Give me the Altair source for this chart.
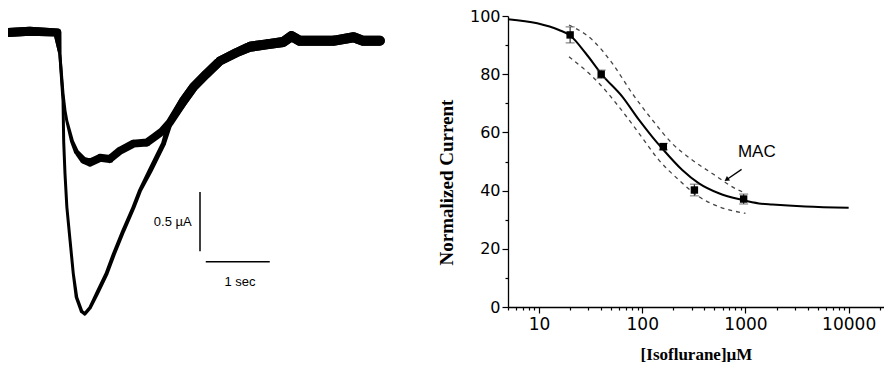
import altair as alt
import pandas as pd

# ---------------- Left panel: two current traces (time in s, current in µA) ----------------
small_t = [0.0, 0.34, 0.77, 0.81, 0.86, 0.89, 0.92, 1.00, 1.07, 1.18, 1.28, 1.44, 1.59, 1.75,
           1.96, 2.17, 2.30, 2.40, 2.53, 2.74, 2.90, 3.10, 3.31, 3.57, 3.78, 4.04, 4.30, 4.43,
           4.56, 5.08, 5.40, 5.55, 5.81]
small_i = [0.0, 0.01, 0.0, -0.18, -0.52, -0.66, -0.75, -0.92, -1.01, -1.08, -1.10, -1.06, -1.07,
           -1.00, -0.94, -0.93, -0.88, -0.84, -0.76, -0.58, -0.46, -0.35, -0.24, -0.17, -0.12,
           -0.10, -0.08, -0.03, -0.07, -0.07, -0.04, -0.07, -0.07]
# apparent thickness of the noisy trace (px)
small_w = [9, 9, 8, 3, 3, 3, 3, 4, 5, 7, 8, 8, 8, 8, 8, 8, 8, 8, 8, 9, 9, 9, 9, 9, 10, 10, 10,
           10, 10, 10, 10, 10, 10]

large_t = [0.0, 0.34, 0.77, 0.81, 0.86, 0.87, 0.89, 0.92, 0.97, 1.02, 1.07, 1.15, 1.20, 1.28,
           1.39, 1.54, 1.65, 1.80, 1.96, 2.06, 2.22, 2.32, 2.43, 2.53, 2.74, 2.90, 3.10, 3.31,
           3.57, 3.78, 4.04, 4.30, 4.43, 4.56, 5.08, 5.40, 5.55, 5.81]
large_i = [0.0, 0.01, 0.0, -0.18, -0.58, -0.92, -1.19, -1.48, -1.76, -2.04, -2.24, -2.36, -2.38,
           -2.33, -2.21, -2.04, -1.88, -1.68, -1.48, -1.34, -1.17, -1.06, -0.94, -0.76, -0.58,
           -0.46, -0.35, -0.24, -0.17, -0.12, -0.10, -0.08, -0.03, -0.07, -0.07, -0.04, -0.07,
           -0.07]
large_w = [9, 9, 8, 3, 3, 3, 3, 3, 3, 3, 3.5, 3.5, 3.5, 3.5, 4, 4, 4, 4, 4, 4, 5, 5, 5, 6, 9, 9,
           9, 9, 9, 10, 10, 10, 10, 10, 10, 10, 10, 10]

# scale bars (0.5 µA and 1 s) and their labels
vbar_t, vbar_i1, vbar_i2 = 3.0, -1.35, -1.85
hbar_t1, hbar_t2, hbar_i = 3.09, 4.09, -1.94
ua_label = "0.5 \u00b5A"
ua_t, ua_i = 2.87, -1.60
sec_label = "1 sec"
sec_t, sec_i = 3.625, -2.11

# ---------------- Right panel: concentration-response ----------------
pts_conc = [20, 40, 160, 320, 960]
pts_norm = [93.5, 80.0, 55.1, 40.2, 37.1]
pts_err = [2.75, 1.4, 1.1, 2.0, 1.7]

fit_conc = [5, 9.6, 15.6, 20, 28.3, 41, 64, 93, 125, 156, 244, 354, 552, 929, 1349, 1820, 3800, 10000]
fit_norm = [98.9, 97.5, 95.2, 93.3, 87.2, 79.7, 72.3, 64.3, 58.5, 54.5, 47.1, 42.5, 39.1, 36.8,
            35.6, 35.2, 34.5, 34.1]

upper_conc = [19.5, 32.8, 51.3, 80, 125, 195, 305, 476, 929, 1000]
upper_norm = [96.9, 91.8, 83.7, 73.4, 64.3, 56.2, 50.5, 45.9, 39.6, 39.2]
lower_conc = [19.5, 38.1, 59.4, 92.9, 145, 227, 354, 552, 929, 1000]
lower_norm = [86.0, 76.9, 68.8, 59.7, 50.5, 43.6, 37.9, 34.5, 32.4, 32.2]

mac_label = "MAC"
mac_conc, mac_norm = 1288, 53.3
arrow_from = (917, 47.3)
arrow_to = (665, 43.9)

x_ticks = [5, 6, 7, 8, 9, 10, 20, 30, 40, 50, 60, 70, 80, 90, 100, 200, 300, 400, 500, 600, 700,
           800, 900, 1000, 2000, 3000, 4000, 5000, 6000, 7000, 8000, 9000, 10000, 20000]
y_ticks = [0, 10, 20, 30, 40, 50, 60, 70, 80, 90, 100]

# ---------------- build left panel ----------------
rows = []
for name, ts, cs, ws in (("small", small_t, small_i, small_w), ("large", large_t, large_i, large_w)):
    for k, (t, c, w) in enumerate(zip(ts, cs, ws)):
        rows.append({"t": t, "i": c, "w": w, "trace": name, "k": k})
trace_df = pd.DataFrame(rows)

xs = alt.Scale(domain=[0, 6], nice=False)
ys = alt.Scale(domain=[-2.5, 0.14], nice=False)

traces = alt.Chart(trace_df).mark_trail(color="black", clip=True).encode(
    x=alt.X("t:Q", scale=xs, axis=None),
    y=alt.Y("i:Q", scale=ys, axis=None),
    size=alt.Size("w:Q", scale=None, legend=None),
    detail="trace:N",
    order="k:Q",
)

vbar = alt.Chart(pd.DataFrame({"t": [vbar_t], "i1": [vbar_i1], "i2": [vbar_i2]})).mark_rule(
    color="black", strokeWidth=1.5).encode(
    x=alt.X("t:Q", scale=xs, axis=None),
    y=alt.Y("i1:Q", scale=ys, axis=None),
    y2="i2:Q",
)
hbar = alt.Chart(pd.DataFrame({"t1": [hbar_t1], "t2": [hbar_t2], "i": [hbar_i]})).mark_rule(
    color="black", strokeWidth=1.5).encode(
    x=alt.X("t1:Q", scale=xs, axis=None),
    x2="t2:Q",
    y=alt.Y("i:Q", scale=ys, axis=None),
)
ua_text = alt.Chart(pd.DataFrame({"t": [ua_t], "i": [ua_i], "s": [ua_label]})).mark_text(
    align="right", baseline="middle", font="Liberation Sans", fontSize=13, color="black").encode(
    x=alt.X("t:Q", scale=xs, axis=None), y=alt.Y("i:Q", scale=ys, axis=None), text="s:N")
sec_text = alt.Chart(pd.DataFrame({"t": [sec_t], "i": [sec_i], "s": [sec_label]})).mark_text(
    align="center", baseline="middle", font="Liberation Sans", fontSize=13, color="black").encode(
    x=alt.X("t:Q", scale=xs, axis=None), y=alt.Y("i:Q", scale=ys, axis=None), text="s:N")

left = alt.layer(traces, vbar, hbar, ua_text, sec_text).properties(width=384, height=312)

# ---------------- build right panel ----------------
xr = alt.Scale(type="log", domain=[5, 22000], nice=False)
yr = alt.Scale(domain=[0, 100], nice=False)

major_test = "indexof([10,100,1000,10000], datum.value) >= 0"
x_axis = alt.Axis(
    values=x_ticks, format="d", grid=False,
    labelExpr="indexof([10,100,1000,10000], datum.value) >= 0 ? datum.label : ''",
    labelOverlap=False, labelFont="DejaVu Sans", labelFontSize=17, labelColor="black",
    labelPadding=3,
    tickSize={"condition": {"test": major_test, "value": 6}, "value": 3},
    tickColor="black", tickWidth=1.2, domainColor="black", domainWidth=1.3,
    title="[Isoflurane]\u00b5M", titleFont="Liberation Serif", titleFontSize=17,
    titleFontWeight="bold", titleColor="black", titlePadding=14,
)
y_axis = alt.Axis(
    values=y_ticks, grid=False,
    labelExpr="datum.value % 20 === 0 ? datum.label : ''",
    labelOverlap=False, labelFont="DejaVu Sans", labelFontSize=16, labelColor="black",
    labelPadding=2,
    tickSize={"condition": {"test": "datum.value % 20 === 0", "value": 6}, "value": 3},
    tickColor="black", tickWidth=1.2, domainColor="black", domainWidth=1.3,
    title="Normalized Current", titleFont="Liberation Serif", titleFontSize=19,
    titleFontWeight="bold", titleColor="black", titlePadding=13, titleY=166,
)

X = lambda f: alt.X(f, scale=xr, axis=x_axis)
Y = lambda f: alt.Y(f, scale=yr, axis=y_axis)

fit_df = pd.DataFrame({"c": fit_conc, "v": fit_norm})
fit = alt.Chart(fit_df).mark_line(color="black", strokeWidth=2, interpolate="monotone").encode(
    x=X("c:Q"), y=Y("v:Q"))

band_df = pd.concat([
    pd.DataFrame({"c": upper_conc, "v": upper_norm, "band": "upper"}),
    pd.DataFrame({"c": lower_conc, "v": lower_norm, "band": "lower"}),
])
bands = alt.Chart(band_df).mark_line(color="#444444", strokeWidth=1.3, strokeDash=[4, 4],
                                     interpolate="monotone").encode(
    x=X("c:Q"), y=Y("v:Q"), detail="band:N")

pts_df = pd.DataFrame({"c": pts_conc, "v": pts_norm, "e": pts_err})
pts_df["lo"] = pts_df["v"] - pts_df["e"]
pts_df["hi"] = pts_df["v"] + pts_df["e"]

err = alt.Chart(pts_df).mark_rule(color="#333333", strokeWidth=1.2).encode(
    x=X("c:Q"), y=Y("lo:Q"), y2="hi:Q")
cap_lo = alt.Chart(pts_df).mark_tick(color="#555555", orient="horizontal", size=9, thickness=1.2).encode(
    x=X("c:Q"), y=Y("lo:Q"))
cap_hi = alt.Chart(pts_df).mark_tick(color="#555555", orient="horizontal", size=9, thickness=1.2).encode(
    x=X("c:Q"), y=Y("hi:Q"))
squares = alt.Chart(pts_df).mark_point(shape="square", filled=True, color="black", size=55,
                                       opacity=1).encode(x=X("c:Q"), y=Y("v:Q"))

mac = alt.Chart(pd.DataFrame({"c": [mac_conc], "v": [mac_norm], "s": [mac_label]})).mark_text(
    font="Liberation Sans", fontSize=17, color="black", align="center", baseline="middle").encode(
    x=X("c:Q"), y=Y("v:Q"), text="s:N")

arrow_df = pd.DataFrame({"c1": [arrow_from[0]], "v1": [arrow_from[1]],
                         "c2": [arrow_to[0]], "v2": [arrow_to[1]]})
arrow_line = alt.Chart(arrow_df).mark_rule(color="black", strokeWidth=1.3).encode(
    x=X("c1:Q"), y=Y("v1:Q"), x2="c2:Q", y2="v2:Q")
arrow_head = alt.Chart(arrow_df).mark_point(shape="triangle", filled=True, color="black", size=30,
                                            angle=235, opacity=1).encode(
    x=X("c2:Q"), y=Y("v2:Q"))

right = alt.layer(fit, bands, err, cap_lo, cap_hi, squares, mac, arrow_line, arrow_head).properties(
    width=376, height=291)

chart = alt.hconcat(left, right, spacing=45).properties(
    padding=0, background="white").configure_view(stroke=None)

chart.save("out.html", embed_options={"renderer": "svg", "actions": False})
